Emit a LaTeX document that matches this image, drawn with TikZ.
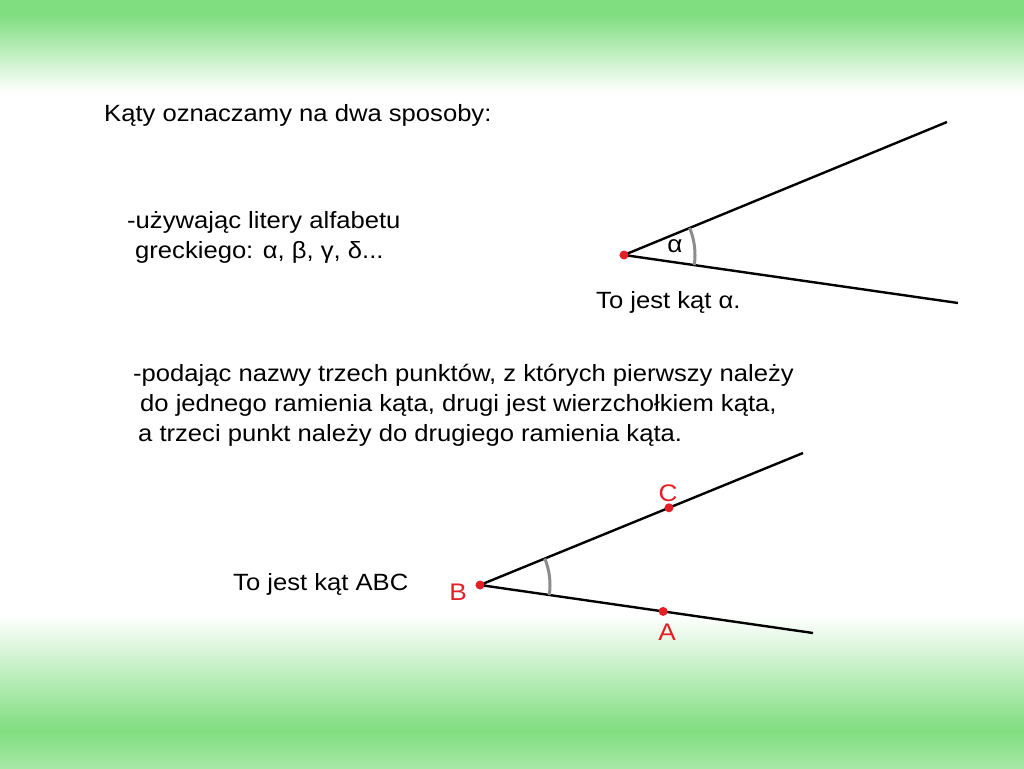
\documentclass[tikz,border=0pt]{standalone}
\usepackage{fontspec}
\setmainfont[FakeStretch=1.09]{Liberation Sans}
\usetikzlibrary{angles,quotes,calc}
\definecolor{slidegreen}{RGB}{128,222,128}
\definecolor{slidered}{RGB}{230,30,38}
\definecolor{arcgray}{RGB}{140,140,140}

\begin{document}
\begin{tikzpicture}[x=1pt,y=1pt,
    txt/.style={anchor=base west, inner sep=0pt, font=\fontsize{23.5}{28}\selectfont},
    lbl/.style={inner sep=0pt, text=slidered, font=\fontsize{24}{28}\selectfont},
    arm/.style={line width=2.4pt},
    anglearc/.style={draw=arcgray, line width=3pt, angle radius=71pt}]
    \useasboundingbox (0,-768) rectangle (1024,0);
    \fill[white] (0,-768) rectangle (1024,0);
    \fill[slidegreen] (0,-15) rectangle (1024,0);
    \shade[top color=slidegreen, bottom color=white] (0,-92) rectangle (1024,-15);
    \shade[top color=white, bottom color=slidegreen] (0,-730) rectangle (1024,-615);
    \shade[top color=slidegreen, bottom color=slidegreen!70!white] (0,-768) rectangle (1024,-730);

    \node[txt] (title) at (104,-121) {Kąty oznaczamy na dwa sposoby:};
    \node[txt] (greek1) at (127,-228) {-używając litery alfabetu};
    \node[txt] (greek2) at (135,-258) {greckiego: α, β, γ, δ...};
    \node[txt] (points1) at (133,-381) {-podając nazwy trzech punktów, z których pierwszy należy};
    \node[txt] (points2) at (140,-411) {do jednego ramienia kąta, drugi jest wierzchołkiem kąta,};
    \node[txt] (points3) at (138,-441) {a trzeci punkt należy do drugiego ramienia kąta.};

    \coordinate (V) at (624,-255); \coordinate (P) at (947,-122); \coordinate (Q) at (958,-303);
    \draw[arm] (P) -- (V) -- (Q);
    \pic[anglearc] {angle = Q--V--P};
    \fill[slidered] (V) circle (4.5pt);
    \node[inner sep=0pt, font=\fontsize{24}{28}\selectfont] (alpha) at (675,-246) {α};
    \node[txt] (isalpha) at (596,-308) {To jest kąt α.};

    \coordinate (B) at (480,-585); \coordinate (Cend) at (803,-453); \coordinate (Aend) at (813,-633);
    \coordinate (C) at ($(B)!0.585!(Cend)$); \coordinate (A) at ($(B)!0.55!(Aend)$);
    \draw[arm] (Cend) -- (B) -- (Aend);
    \pic[anglearc, angle radius=70pt] {angle = Aend--B--Cend};
    \foreach \p in {A,B,C} \fill[slidered] (\p) circle (4.5pt);
    \node[lbl] (labC) at (668,-493) {C}; \node[lbl] (labA) at (667,-632) {A};
    \node[lbl] (labB) at (458,-592) {B};
    \node[txt] (isabc) at (233,-590) {To jest kąt ABC};
\end{tikzpicture}
\end{document}
